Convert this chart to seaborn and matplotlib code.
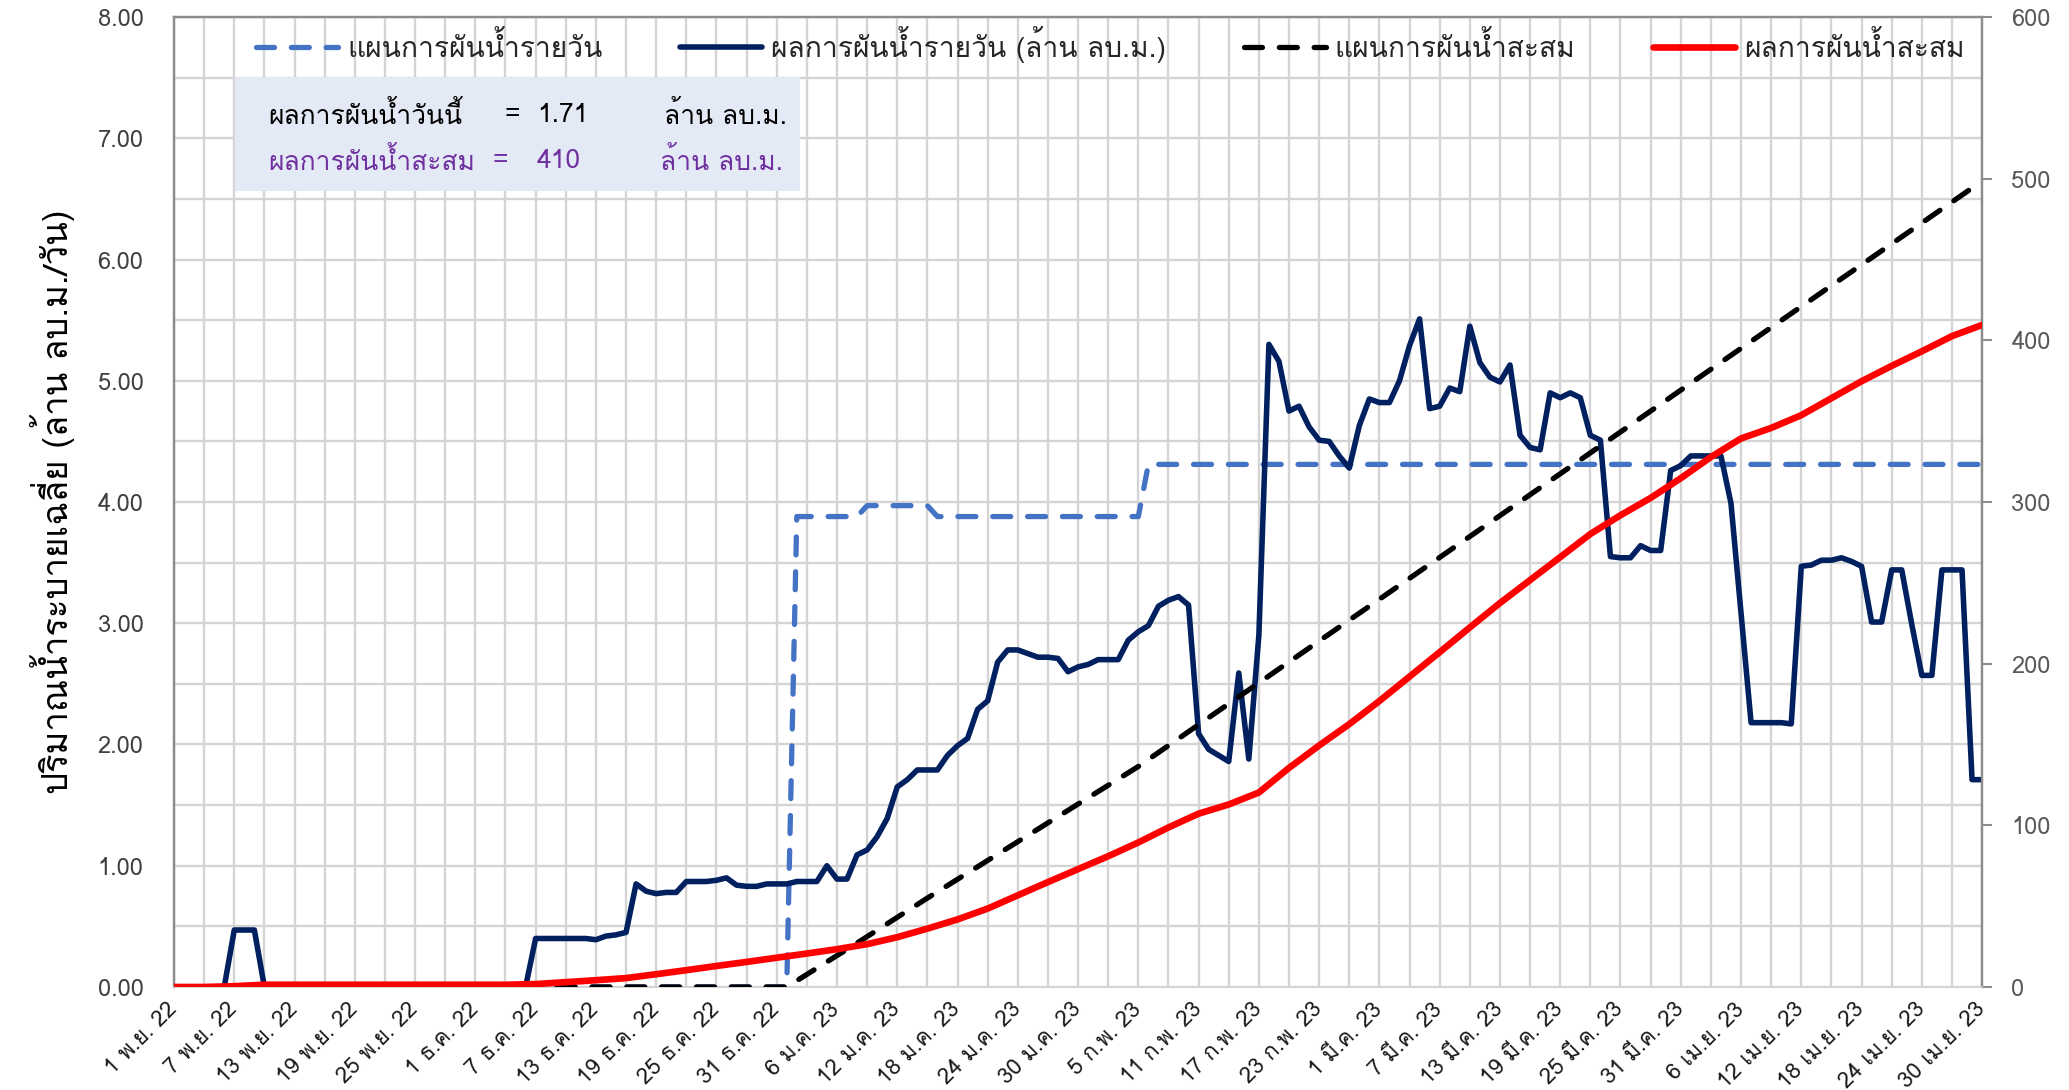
import matplotlib
matplotlib.use("Agg")
import matplotlib.pyplot as plt
from matplotlib import font_manager
from matplotlib.ft2font import FT2Font
from matplotlib.lines import Line2D
from matplotlib.patches import Rectangle
from matplotlib.ticker import FixedLocator, MultipleLocator, FormatStrFormatter
from matplotlib.transforms import ScaledTranslation
import seaborn as sns

# ---------------------------------------------------------------------------
# Data, day 0 = 1 Nov 2022 ... day 180 = 30 Apr 2023
# ---------------------------------------------------------------------------
DAYS = list(range(181))
TICK_DAYS = list(range(0, 181, 6))
TICK_LABELS = [
    "1 พ.ย. 22", "7 พ.ย. 22", "13 พ.ย. 22", "19 พ.ย. 22", "25 พ.ย. 22",
    "1 ธ.ค. 22", "7 ธ.ค. 22", "13 ธ.ค. 22", "19 ธ.ค. 22", "25 ธ.ค. 22", "31 ธ.ค. 22",
    "6 ม.ค. 23", "12 ม.ค. 23", "18 ม.ค. 23", "24 ม.ค. 23", "30 ม.ค. 23",
    "5 ก.พ. 23", "11 ก.พ. 23", "17 ก.พ. 23", "23 ก.พ. 23",
    "1 มี.ค. 23", "7 มี.ค. 23", "13 มี.ค. 23", "19 มี.ค. 23", "25 มี.ค. 23", "31 มี.ค. 23",
    "6 เม.ย. 23", "12 เม.ย. 23", "18 เม.ย. 23", "24 เม.ย. 23", "30 เม.ย. 23",
]

# daily plan (step series, break points)
PLAN_DAY = [0, 61, 62, 68, 69, 75, 76, 96, 97, 180]
PLAN_DAILY = [0.00, 0.00, 3.88, 3.88, 3.97, 3.97, 3.88, 3.88, 4.31, 4.31]

# daily actual release (million m3/day)
ACT_NOV = [0, 0, 0, 0, 0, 0, 0.47, 0.47, 0.47] + [0] * 21
ACT_DEC = [0] * 6 + [0.40, 0.40, 0.40, 0.40, 0.40, 0.40, 0.39,
                     0.42, 0.43, 0.45, 0.85, 0.79, 0.77, 0.78, 0.78, 0.87,
                     0.87, 0.87, 0.88, 0.90, 0.84, 0.83, 0.83, 0.85, 0.85]
ACT_JAN = [0.85, 0.87, 0.87, 0.87, 1.00, 0.89, 0.89, 1.09, 1.13, 1.24,
           1.39, 1.65, 1.71, 1.79, 1.79, 1.79, 1.91, 1.99, 2.05, 2.29,
           2.36, 2.68, 2.78, 2.78, 2.75, 2.72, 2.72, 2.71, 2.60, 2.64, 2.66]
ACT_FEB = [2.70, 2.70, 2.70, 2.86, 2.93, 2.98, 3.14, 3.19, 3.22, 3.15,
           2.09, 1.96, 1.91, 1.86, 2.59, 1.88, 2.90, 5.30, 5.16, 4.75,
           4.79, 4.62, 4.51, 4.50, 4.38, 4.28, 4.63, 4.85]
ACT_MAR = [4.82, 4.82, 5.00, 5.29, 5.51, 4.77, 4.79, 4.94, 4.91, 5.45,
           5.15, 5.03, 4.99, 5.13, 4.55, 4.45, 4.43, 4.90, 4.86, 4.90,
           4.86, 4.55, 4.51, 3.55, 3.54, 3.54, 3.64, 3.60, 3.60, 4.26, 4.30]
ACT_APR = [4.38, 4.38, 4.38, 4.38, 3.99, 3.08, 2.18, 2.18, 2.18, 2.18,
           2.17, 3.47, 3.48, 3.52, 3.52, 3.54, 3.51, 3.47, 3.01, 3.01,
           3.44, 3.44, 2.99, 2.57, 2.57, 3.44, 3.44, 3.44, 1.71, 1.71]
ACT_DAILY = ACT_NOV + ACT_DEC + ACT_JAN + ACT_FEB + ACT_MAR + ACT_APR

# cumulative plan (right axis, break points)
PLAN_CUM_DAY = [0, 61, 68, 75, 96, 180]
PLAN_CUM = [0.0, 0.0, 27.2, 55.0, 136.4, 498.5]

# cumulative actual (right axis, every 3 days)
ACT_CUM_DAY = list(range(0, 181, 3))
ACT_CUM = [0.0, 0.0, 0.5, 1.4, 1.4, 1.4, 1.4, 1.4, 1.4, 1.4, 1.4, 1.4,
           1.8, 3.0, 4.2, 5.5, 7.9, 10.4, 13.0, 15.5, 18.1,
           20.7, 23.4, 26.5, 30.8, 36.1, 41.8, 48.5, 56.7, 64.9, 72.9,
           80.9, 89.4, 98.7, 107.2, 112.9, 120.3, 135.5, 149.4, 162.6, 176.9,
           192.0, 207.1, 222.4, 237.5, 251.7, 265.9, 280.2, 291.8, 302.5, 314.7,
           327.8, 339.3, 345.8, 353.7, 364.2, 374.7, 384.2, 393.2, 402.6, 409.5]

TODAY_VALUE = "1.71"
TOTAL_VALUE = "410"

SERIES_NAMES = ["แผนการผันน้ำรายวัน", "ผลการผันน้ำรายวัน (ล้าน ลบ.ม.)",
                "แผนการผันน้ำสะสม", "ผลการผันน้ำสะสม"]

BLUE = "#4472C4"
NAVY = "#002060"
RED = "#FF0000"
GRID = "#D4D4D4"
PURPLE = "#7030A0"


def thai_families() -> list[str]:
    """Installed families that carry Thai glyphs (Loma first if present)."""
    found = []
    for f in font_manager.fontManager.ttflist:
        try:
            cmap = FT2Font(f.fname).get_charmap()
        except Exception:
            continue
        if 0x0E1C in cmap and f.name not in found:
            found.append(f.name)
    if "Loma" in found:
        found.remove("Loma")
        found.insert(0, "Loma")
    return found


sns.set_theme(style="white")
thai = thai_families()
plt.rcParams["font.family"] = thai[:1] + ["DejaVu Sans"]

fig = plt.figure(figsize=(20.69, 10.90), dpi=100)
ax = fig.add_axes([0.0841, 0.0945, 0.8739, 0.8899])
ax2 = ax.twinx()

dash = (0, (3.4, 3.2))
sns.lineplot(x=PLAN_DAY, y=PLAN_DAILY, ax=ax, color=BLUE, lw=3.8,
             linestyle=dash, dash_capstyle="round", zorder=3)
sns.lineplot(x=DAYS, y=ACT_DAILY, ax=ax, color=NAVY, lw=4.0, zorder=4)
sns.lineplot(x=PLAN_CUM_DAY, y=PLAN_CUM, ax=ax2, color="black", lw=3.8,
             linestyle=dash, dash_capstyle="round", zorder=3)
sns.lineplot(x=ACT_CUM_DAY, y=ACT_CUM, ax=ax2, color=RED, lw=4.8, zorder=4)

# axes ranges / grid
ax.set_xlim(0, 180)
ax.set_ylim(0, 8)
ax2.set_ylim(0, 600)
ax.xaxis.set_major_locator(FixedLocator(TICK_DAYS))
ax.xaxis.set_minor_locator(MultipleLocator(3))
ax.set_xticklabels(TICK_LABELS, rotation=45, ha="right", va="center",
                   rotation_mode="anchor", fontsize=16, color="#1A1A1A")
shift = ScaledTranslation(-4 / 72, 0, fig.dpi_scale_trans)
for lab in ax.get_xticklabels():
    lab.set_transform(lab.get_transform() + shift)
ax.yaxis.set_major_locator(MultipleLocator(1))
ax.yaxis.set_minor_locator(MultipleLocator(0.5))
ax.yaxis.set_major_formatter(FormatStrFormatter("%.2f"))
ax.grid(True, which="both", color=GRID, lw=1.7)
ax.set_axisbelow(True)
ax.tick_params(axis="x", which="both", length=0, pad=14)
ax.tick_params(axis="y", which="both", length=0, pad=22, labelsize=17,
               labelcolor="#404040")
ax2.yaxis.set_major_locator(MultipleLocator(100))
ax2.tick_params(axis="y", length=7, width=1.5, color="#8C8C8C", pad=14,
                labelsize=17, labelcolor="#595959", direction="out")
ax2.grid(False)
ax.set_xlabel("")
ax2.set_xlabel("")
ax2.set_ylabel("")
ax.set_ylabel("ปริมาณน้ำระบายเฉลี่ย (ล้าน ลบ.ม./วัน)", fontsize=25,
              labelpad=16, color="black")

for side in ("left", "right", "top"):
    for a in (ax, ax2):
        a.spines[side].set_color("#8C8C8C")
        a.spines[side].set_linewidth(1.6)
for a in (ax, ax2):
    a.spines["bottom"].set_color(GRID)

# legend
handles = [
    Line2D([], [], color=BLUE, lw=3.8, linestyle=dash, dash_capstyle="round"),
    Line2D([], [], color=NAVY, lw=4.0),
    Line2D([], [], color="black", lw=3.8, linestyle=dash, dash_capstyle="round"),
    Line2D([], [], color=RED, lw=4.8),
]
ax2.legend(handles, SERIES_NAMES, loc="center", bbox_to_anchor=(0.518, 0.972),
           ncol=4, frameon=False, fontsize=20.3, handlelength=2.9,
           handletextpad=0.33, columnspacing=2.75)

# info box
ax2.add_patch(Rectangle((0.0337, 0.8206), 0.3125, 0.1174, transform=ax.transAxes,
                        facecolor="#E4EAF5", edgecolor="none", zorder=5))
box_rows = [
    (0.899, "black", "ผลการผันน้ำวันนี้", 0.183, TODAY_VALUE, 0.271),
    (0.852, PURPLE, "ผลการผันน้ำสะสม", 0.176, TOTAL_VALUE, 0.269),
]
for y, col, name, x_eq, value, x_unit in box_rows:
    for x, s in ((0.052, name), (x_eq, "="), (0.2008, value), (x_unit, "ล้าน ลบ.ม.")):
        ax2.text(x, y, s, transform=ax.transAxes, fontsize=19, color=col,
                 va="center", zorder=6)

fig.savefig("out.png", dpi=100)
